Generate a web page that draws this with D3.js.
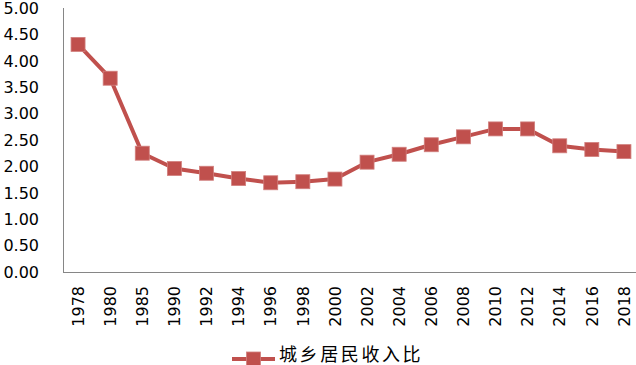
<!DOCTYPE html>
<html><head><meta charset="utf-8">
<script src="https://cdn.jsdelivr.net/npm/d3@7"></script>
<style>body{margin:0;background:#fff}svg{display:block}</style>
</head><body>
<svg id="c" width="636" height="365"></svg>
<script>
const years = ["1978","1980","1985","1990","1992","1994","1996","1998","2000","2002","2004","2006","2008","2010","2012","2014","2016","2018"];
const ratio = [4.31,3.67,2.25,1.96,1.87,1.77,1.69,1.71,1.76,2.08,2.23,2.41,2.56,2.71,2.71,2.39,2.32,2.28];
const yTicks = [0,0.5,1,1.5,2,2.5,3,3.5,4,4.5,5];
const seriesName = "城乡居民收入比";

(function(){
const svg = d3.select("#c");
const color = "#C0504D";
const axisColor = "#868686";
const pLeft = 62, pRight = 640, pTop = 8, pBottom = 272;

const x = d3.scaleBand().domain(years).range([pLeft, pRight]);
const y = d3.scaleLinear().domain([0,5]).range([pBottom, pTop]);

svg.append("line").attr("x1",63.5).attr("x2",63.5).attr("y1",pTop).attr("y2",pBottom)
  .attr("stroke",axisColor).attr("stroke-width",1);
svg.append("line").attr("x1",63).attr("x2",636).attr("y1",pBottom+0.5).attr("y2",pBottom+0.5)
  .attr("stroke",axisColor).attr("stroke-width",1);

svg.append("g").selectAll("text").data(yTicks).join("text")
  .attr("x",39).attr("y",d=>y(d)).attr("dy","0.36em")
  .attr("text-anchor","end")
  .attr("font-family","DejaVu Sans, sans-serif").attr("font-size",16)
  .attr("fill","#000").text(d=>d.toFixed(2));

svg.append("g").selectAll("text").data(years).join("text")
  .attr("transform",d=>`translate(${x(d)+x.bandwidth()/2},286) rotate(-90)`)
  .attr("dy","0.36em").attr("text-anchor","end")
  .attr("font-family","DejaVu Sans, sans-serif").attr("font-size",16)
  .attr("fill","#000").text(d=>d);

const pts = years.map((d,i)=>[x(d)+x.bandwidth()/2, y(ratio[i])]);
svg.append("path").attr("d",d3.line()(pts)).attr("fill","none")
  .attr("stroke",color).attr("stroke-width",4).attr("stroke-linejoin","round");

const ms = 14;
svg.append("g").selectAll("rect").data(pts).join("rect")
  .attr("x",d=>d[0]-ms/2).attr("y",d=>d[1]-ms/2).attr("width",ms).attr("height",ms)
  .attr("fill",color).attr("stroke","#D17F7D").attr("stroke-width",0.8);

const lg = svg.append("g");
lg.append("line").attr("x1",232).attr("x2",275).attr("y1",359).attr("y2",359)
  .attr("stroke",color).attr("stroke-width",4);
lg.append("rect").attr("x",253.5-ms/2).attr("y",359-ms/2).attr("width",ms).attr("height",ms)
  .attr("fill",color).attr("stroke","#D17F7D").attr("stroke-width",0.8);
lg.append("text").attr("x",279).attr("y",355).attr("dy","0.35em")
  .attr("font-family","Noto Sans CJK SC, sans-serif").attr("font-size",18)
  .attr("letter-spacing",2.6).attr("fill","#000").text(seriesName);
})();
</script>
</body></html>
